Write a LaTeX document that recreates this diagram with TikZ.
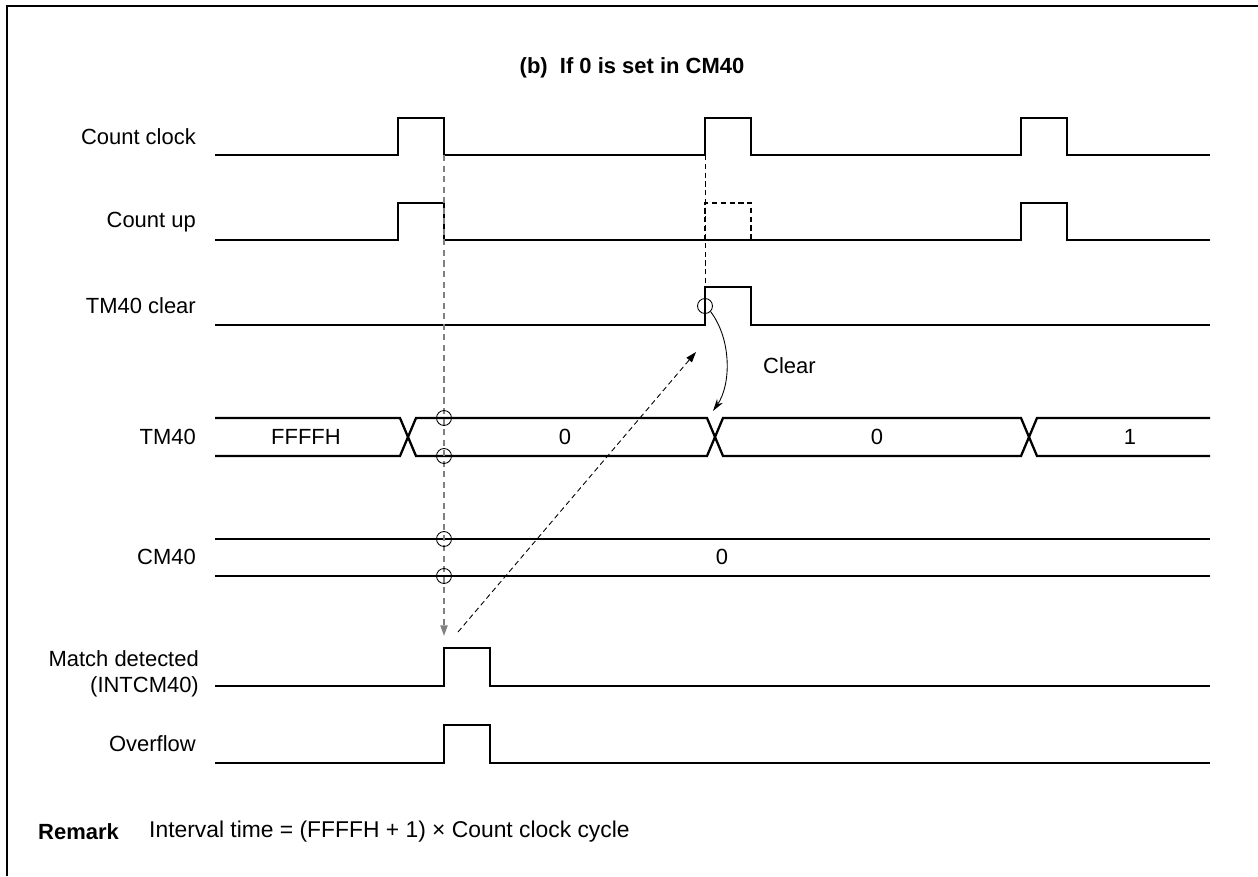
\documentclass[tikz,border=0pt]{standalone}
\usepackage{fontspec}
\setmainfont{Liberation Sans}
\usetikzlibrary{arrows.meta}

\tikzset{
  wave/.style={line width=1.3pt},
  ghost/.style={line width=1.3pt,dash pattern=on 3pt off 2pt},
  guide/.style={line width=1pt,gray,dash pattern=on 3.5pt off 2.5pt},
  hint/.style={line width=0.5pt,dash pattern=on 3pt off 2pt},
  ring/.style={circle,draw,line width=0.5pt,minimum size=8.5pt,inner sep=0pt},
  lbl/.style={anchor=east,font=\fontsize{12.5}{15}\selectfont},
  val/.style={font=\fontsize{12.5}{15}\selectfont},
}

\begin{document}
\begin{tikzpicture}[x=0.02cm,y=-0.02cm]
  \useasboundingbox (0,0) rectangle (1258,876);
  % frame
  \draw[line width=1.5pt] (7,876) -- (7,6) -- (1258,6);

  \node[val,font=\bfseries\fontsize{12.5}{15}\selectfont] (title) at (632,68) {(b)\ \ If 0 is set in CM40};

  % signal names
  \node[lbl] (nclk) at (202,137) {Count clock};
  \node[lbl] (nup) at (202,222) {Count up};
  \node[lbl] (nclr) at (202,306) {TM40 clear};
  \node[lbl] (ntm) at (202,437) {TM40};
  \node[lbl] (ncm) at (202,557) {CM40};
  \node[lbl,align=right] (nmatch) at (205,674) {Match detected\\(INTCM40)};
  \node[lbl] (novf) at (202,744) {Overflow};

  % count clock
  \draw[wave] (215,155) -- (398,155) -- (398,118) -- (444,118) -- (444,155)
    -- (705,155) -- (705,118) -- (751,118) -- (751,155)
    -- (1021,155) -- (1021,118) -- (1067,118) -- (1067,155) -- (1210,155);
  % count up
  \draw[wave] (215,240) -- (398,240) -- (398,203) -- (444,203) -- (444,240)
    -- (1021,240) -- (1021,203) -- (1067,203) -- (1067,240) -- (1210,240);
  \draw[ghost] (705,240) -- (705,203) -- (751,203) -- (751,240);
  % TM40 clear
  \draw[wave] (215,325) -- (705,325) -- (705,287) -- (751,287) -- (751,325) -- (1210,325);

  % TM40 bus
  \draw[wave] (215,418) -- (400,418) -- (416,456) -- (707,456) -- (723,418)
    -- (1021,418) -- (1037,456) -- (1210,456);
  \draw[wave] (215,456) -- (400,456) -- (416,418) -- (707,418) -- (723,456)
    -- (1021,456) -- (1037,418) -- (1210,418);
  \node[val] (tma) at (306,437) {FFFFH};
  \node[val] (tmb) at (565,437) {0};
  \node[val] (tmc) at (877,437) {0};
  \node[val] (tmd) at (1130,437) {1};

  % CM40
  \draw[wave] (215,539) -- (1210,539);
  \draw[wave] (215,576) -- (1210,576);
  \node[val] (cma) at (722,557) {0};

  % match / overflow
  \draw[wave] (215,686) -- (444,686) -- (444,648) -- (490,648) -- (490,686) -- (1210,686);
  \draw[wave] (215,763) -- (444,763) -- (444,725) -- (490,725) -- (490,763) -- (1210,763);

  % match point
  \coordinate (mtop) at (444,155);
  \coordinate (mend) at (444,636);
  \draw[guide,-{Triangle[length=6pt,width=4pt]}] (mtop) -- (mend);
  \foreach \y/\n in {418/ra,456/rb,539/rc,576/rd}
    \node[ring] (\n) at (444,\y) {};

  % clear
  \coordinate (ctop) at (705,155);
  \node[ring] (rclr) at (705,306) {};
  \draw[hint] (ctop) -- (705,287);
  \coordinate (xtm) at (713,411);
  \draw[line width=0.5pt,-{Stealth[length=7pt,width=4pt]}] (rclr.south east)
    .. controls (732,340) and (731,385) .. (xtm);
  \node[val,anchor=west] (clr) at (757,366) {Clear};

  \coordinate (dfrom) at (458,632);
  \coordinate (dto) at (696,352);
  \draw[hint,-{Triangle[length=6pt,width=4pt]}] (dfrom) -- (dto);

  % remark
  \node[val,anchor=west,font=\bfseries\fontsize{12.5}{15}\selectfont] (rem) at (32,832) {Remark};
  \node[val,anchor=west,font=\fontsize{13}{15}\selectfont] (remt) at (143,832) {Interval time = (FFFFH + 1) × Count clock cycle};
\end{tikzpicture}
\end{document}
